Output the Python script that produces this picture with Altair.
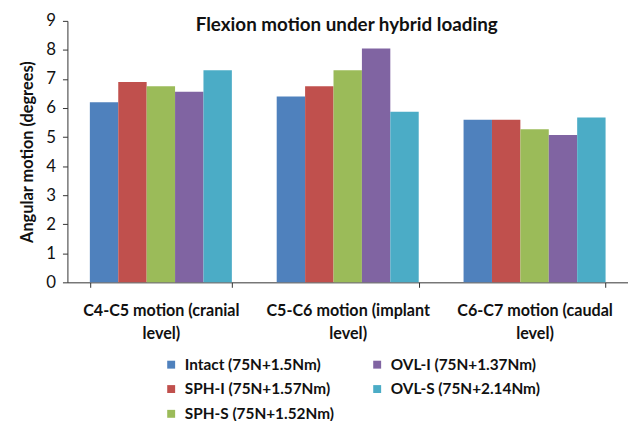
import altair as alt
import pandas as pd

levels = [
    "C4-C5 motion (cranial\nlevel)",
    "C5-C6 motion (implant\nlevel)",
    "C6-C7 motion (caudal\nlevel)",
]
series = [
    "Intact (75N+1.5Nm)",
    "SPH-I (75N+1.57Nm)",
    "SPH-S (75N+1.52Nm)",
    "OVL-I (75N+1.37Nm)",
    "OVL-S (75N+2.14Nm)",
]
colors = ["#4F81BD", "#C0504D", "#9BBB59", "#8064A2", "#4BACC6"]

intact = [6.2, 6.4, 5.6]
sph_i = [6.9, 6.75, 5.6]
sph_s = [6.75, 7.3, 5.27]
ovl_i = [6.56, 8.05, 5.07]
ovl_s = [7.3, 5.87, 5.67]

values = [intact, sph_i, sph_s, ovl_i, ovl_s]
rows = []
for s, vals in zip(series, values):
    for lvl, v in zip(levels, vals):
        rows.append({"level": lvl, "series": s, "value": v})
df = pd.DataFrame(rows)

FONT = "Lato"

bars = alt.Chart(df).mark_bar().encode(
    x=alt.X(
        "level:N",
        sort=levels,
        title=None,
        scale=alt.Scale(paddingInner=0.24, paddingOuter=0.12),
        axis=alt.Axis(
            labelExpr="split(datum.label, '\\n')",
            labelAngle=0,
            labelFont=FONT,
            labelFontSize=16.3,
            labelFontWeight="bold",
            labelColor="#111111",
            labelLineHeight=24,
            labelPadding=15,
            tickBand="extent",
            tickSize=5,
            tickColor="#333333",
            domainColor="#333333",
            labelLimit=300,
        ),
    ),
    xOffset=alt.XOffset("series:N", sort=series),
    y=alt.Y(
        "value:Q",
        title="Angular motion (degrees)",
        scale=alt.Scale(domain=[0, 9], nice=False),
        axis=alt.Axis(
            values=list(range(10)),
            grid=False,
            tickSize=5,
            tickColor="#333333",
            domainColor="#333333",
            labelFont=FONT,
            labelFontSize=17,
            labelColor="#111111",
            labelPadding=7,
            titleFont=FONT,
            titleFontSize=16.5,
            titleFontWeight="bold",
            titleColor="#111111",
            titlePadding=10,
        ),
    ),
    color=alt.Color(
        "series:N",
        scale=alt.Scale(domain=series, range=colors),
        legend=alt.Legend(
            title=None,
            orient="none",
            legendX=97,
            legendY=339,
            columns=2,
            symbolType="square",
            symbolSize=64,
            symbolStrokeWidth=0,
            labelFont=FONT,
            labelFontSize=15.5,
            labelFontWeight="bold",
            labelColor="#111111",
            labelOffset=6,
            rowPadding=8,
            columnPadding=35,
            padding=0,
            labelLimit=300,
        ),
    ),
)

title_df = pd.DataFrame({"t": ["Flexion motion under hybrid loading"]})
title = alt.Chart(title_df).mark_text(
    font=FONT, fontSize=19, fontWeight="bold", color="#111111", baseline="middle"
).encode(text="t:N", x=alt.value(282), y=alt.value(4))

chart = alt.layer(bars, title).properties(
    width=566,
    height=264,
    autosize=alt.AutoSizeParams(type="none"),
    padding={"left": 60, "top": 11, "right": 0, "bottom": 138},
).configure_view(stroke=None)

chart.save("out.html", embed_options={"renderer": "svg", "actions": False})
